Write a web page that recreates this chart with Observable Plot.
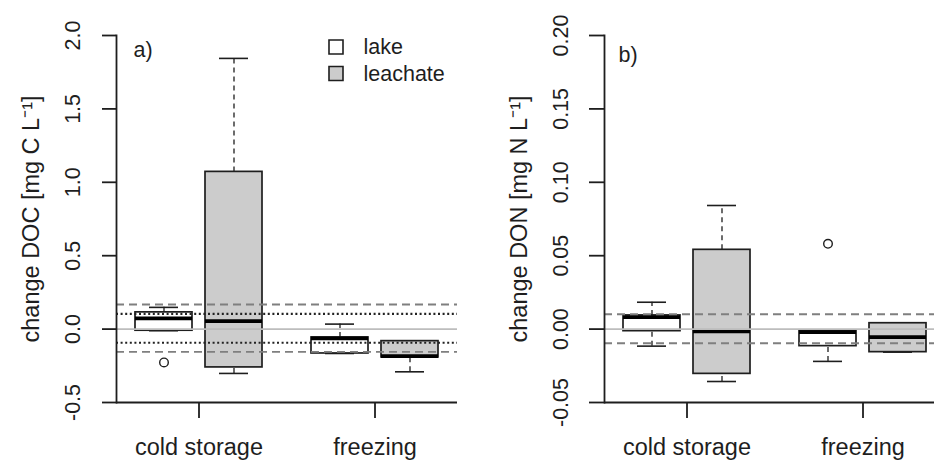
<!DOCTYPE html>
<html>
<head>
<meta charset="utf-8">
<script src="https://cdn.jsdelivr.net/npm/d3@7"></script>
<script src="https://cdn.jsdelivr.net/npm/@observablehq/plot@0.6"></script>
<style>
  body { margin: 0; background: #fff; }
  #wrap { display: flex; width: 934px; height: 461px; overflow: hidden; background: #fff; }
  #wrap svg { flex: none; }
</style>
</head>
<body>
<div id="wrap"></div>
<script>
// ---- categories ----
const conditions = ["cold storage", "freezing"];
const sampleTypes = ["lake", "leachate"];
const typeFill = ["#ffffff", "#cccccc"];

// ---- panel a) change DOC [mg C L-1] ----
const docCondition = ["cold storage", "cold storage", "freezing", "freezing"];
const docType      = ["lake", "leachate", "lake", "leachate"];
const docLow       = [-0.011, -0.302, -0.166, -0.291];
const docQ1        = [-0.011, -0.261, -0.166, -0.193];
const docMedian    = [ 0.073,  0.054, -0.063, -0.184];
const docQ3        = [ 0.114,  1.071, -0.057, -0.082];
const docHigh      = [ 0.148,  1.844,  0.034, -0.082];
const docOutCondition = ["cold storage"];
const docOutType      = ["lake"];
const docOutValue     = [-0.227];
const docDashed = [0.168, -0.155];
const docDotted = [0.104, -0.093];
const docTicks = [-0.5, 0, 0.5, 1.0, 1.5, 2.0];
const docTickLabels = ["-0.5", "0.0", "0.5", "1.0", "1.5", "2.0"];

// ---- panel b) change DON [mg N L-1] ----
const donCondition = ["cold storage", "cold storage", "freezing", "freezing"];
const donType      = ["lake", "leachate", "lake", "leachate"];
const donLow       = [-0.0116, -0.0357, -0.0220, -0.0157];
const donQ1        = [-0.0014, -0.0305, -0.0116, -0.0157];
const donMedian    = [ 0.0081, -0.0016, -0.0020, -0.0055];
const donQ3        = [ 0.0093,  0.0540, -0.0014,  0.0040];
const donHigh      = [ 0.0183,  0.0842, -0.0014,  0.0040];
const donOutCondition = ["freezing"];
const donOutType      = ["lake"];
const donOutValue     = [0.0581];
const donDashed = [0.0101, -0.0096];
const donDotted = [];
const donTicks = [-0.05, 0, 0.05, 0.10, 0.15, 0.20];
const donTickLabels = ["-0.05", "0.00", "0.05", "0.10", "0.15", "0.20"];

const FONT = "'Liberation Sans', Arial, Helvetica, sans-serif";
const INK = "#1e1e1e";

function panel(cfg) {
  const rows = cfg.cond.map((c, i) => ({
    condition: c, type: cfg.type[i], low: cfg.low[i], q1: cfg.q1[i],
    median: cfg.median[i], q3: cfg.q3[i], high: cfg.high[i]
  }));
  const outs = cfg.outCond.map((c, i) => ({condition: c, type: cfg.outType[i], value: cfg.outValue[i]}));
  const marks = [];
  sampleTypes.forEach((t, k) => {
    const s = k === 0 ? -1 : 1;
    const r = rows.filter(d => d.type === t);
    const o = outs.filter(d => d.type === t);
    const boxIn = k === 0 ? {insetLeft: 19, insetRight: 89} : {insetLeft: 89, insetRight: 19};
    const capIn = k === 0 ? {insetLeft: 33, insetRight: 103} : {insetLeft: 103, insetRight: 33};
    marks.push(
      Plot.ruleX(r, {x: "condition", y1: "q3", y2: "high", dx: s * 35, stroke: INK, strokeWidth: 1.3, strokeDasharray: "5,4"}),
      Plot.ruleX(r, {x: "condition", y1: "low", y2: "q1", dx: s * 35, stroke: INK, strokeWidth: 1.3, strokeDasharray: "5,4"}),
      Plot.tickY(r, {x: "condition", y: "high", stroke: INK, strokeWidth: 1.6, ...capIn}),
      Plot.tickY(r, {x: "condition", y: "low", stroke: INK, strokeWidth: 1.6, ...capIn}),
      Plot.barY(r, {x: "condition", y1: "q1", y2: "q3", fill: typeFill[k], stroke: INK, strokeWidth: 1.7, ...boxIn}),
      Plot.tickY(r, {x: "condition", y: "median", stroke: "#000", strokeWidth: 3.8, ...boxIn}),
      Plot.dot(o, {x: "condition", y: "value", dx: s * 35, r: 4.3, stroke: INK, strokeWidth: 1.4, fill: "none"})
    );
  });
  // reference lines (drawn on top)
  marks.push(
    Plot.ruleY([0], {stroke: "#bdbdbd", strokeWidth: 1.6}),
    Plot.ruleY(cfg.dashed, {stroke: "#7f7f7f", strokeWidth: 1.9, strokeDasharray: "8,5"}),
    Plot.ruleY(cfg.dotted, {stroke: "#222", strokeWidth: 2.1, strokeDasharray: "2,2.6"})
  );
  // axes
  marks.push(
    Plot.frame({anchor: "left", stroke: INK, strokeWidth: 1.8}),
    Plot.ruleY([cfg.yDomain[0]], {stroke: INK, strokeWidth: 1.8}),
    Plot.axisY({ticks: cfg.ticks, tickSize: cfg.tickSize, tickFormat: () => "", label: null, stroke: INK, strokeWidth: 1.8}),
    Plot.text(cfg.ticks, {y: d => d, text: (d, i) => cfg.tickLabels[i], frameAnchor: "left", dx: -43, rotate: -90,
      textAnchor: "middle", lineAnchor: "middle", fontSize: 21.5, fill: INK}),
    Plot.axisX({tickSize: 16, tickPadding: 20, label: null, fontSize: 23.5, stroke: INK, strokeWidth: 1.8}),
    Plot.text([cfg.ylabel], {frameAnchor: "left", dx: -85, rotate: -90, textAnchor: "middle", lineAnchor: "middle", fontSize: 23.5, fill: INK}),
    Plot.text([cfg.tag], {frameAnchor: "top-left", dx: cfg.tagDx, dy: cfg.tagDy, textAnchor: "start", lineAnchor: "middle", fontSize: 21.5, fill: INK})
  );
  if (cfg.legend) {
    sampleTypes.forEach((t, k) => {
      marks.push(
        Plot.dot([t], {frameAnchor: "top-left", dx: 219.5, dy: 11.5 + k * 26.5, symbol: "square", r: 7.9, fill: typeFill[k], stroke: INK, strokeWidth: 1.6}),
        Plot.text([t], {frameAnchor: "top-left", dx: 247, dy: 12 + k * 26.5, textAnchor: "start", lineAnchor: "middle", fontSize: 21.5, fill: INK})
      );
    });
  }
  return Plot.plot({
    width: 467, height: 461,
    marginTop: 35, marginBottom: 59, marginLeft: cfg.marginLeft, marginRight: cfg.marginRight,
    x: {type: "band", domain: conditions, range: cfg.xRange, paddingInner: 0.0625, paddingOuter: 0},
    y: {domain: cfg.yDomain},
    style: {fontFamily: FONT, color: INK, background: "#fff", overflow: "hidden"},
    marks
  });
}

const a = panel({
  cond: docCondition, type: docType, low: docLow, q1: docQ1, median: docMedian, q3: docQ3, high: docHigh,
  outCond: docOutCondition, outType: docOutType, outValue: docOutValue,
  dashed: docDashed, dotted: docDotted, ticks: docTicks, tickLabels: docTickLabels,
  yDomain: [-0.5, 2.0], marginLeft: 116, marginRight: 10, xRange: [116, 457], tickSize: 14,
  ylabel: "change DOC [mg C L\u207B\u00B9]", tag: "a)", tagDx: 17, tagDy: 15, legend: true
});
const b = panel({
  cond: donCondition, type: donType, low: donLow, q1: donQ1, median: donMedian, q3: donQ3, high: donHigh,
  outCond: donOutCondition, outType: donOutType, outValue: donOutValue,
  dashed: donDashed, dotted: donDotted, ticks: donTicks, tickLabels: donTickLabels,
  yDomain: [-0.05, 0.20], marginLeft: 137, marginRight: 0, xRange: [137, 478], tickSize: 15,
  ylabel: "change DON [mg N L\u207B\u00B9]", tag: "b)", tagDx: 14, tagDy: 20, legend: false
});
document.getElementById("wrap").append(a, b);
</script>
</body>
</html>
